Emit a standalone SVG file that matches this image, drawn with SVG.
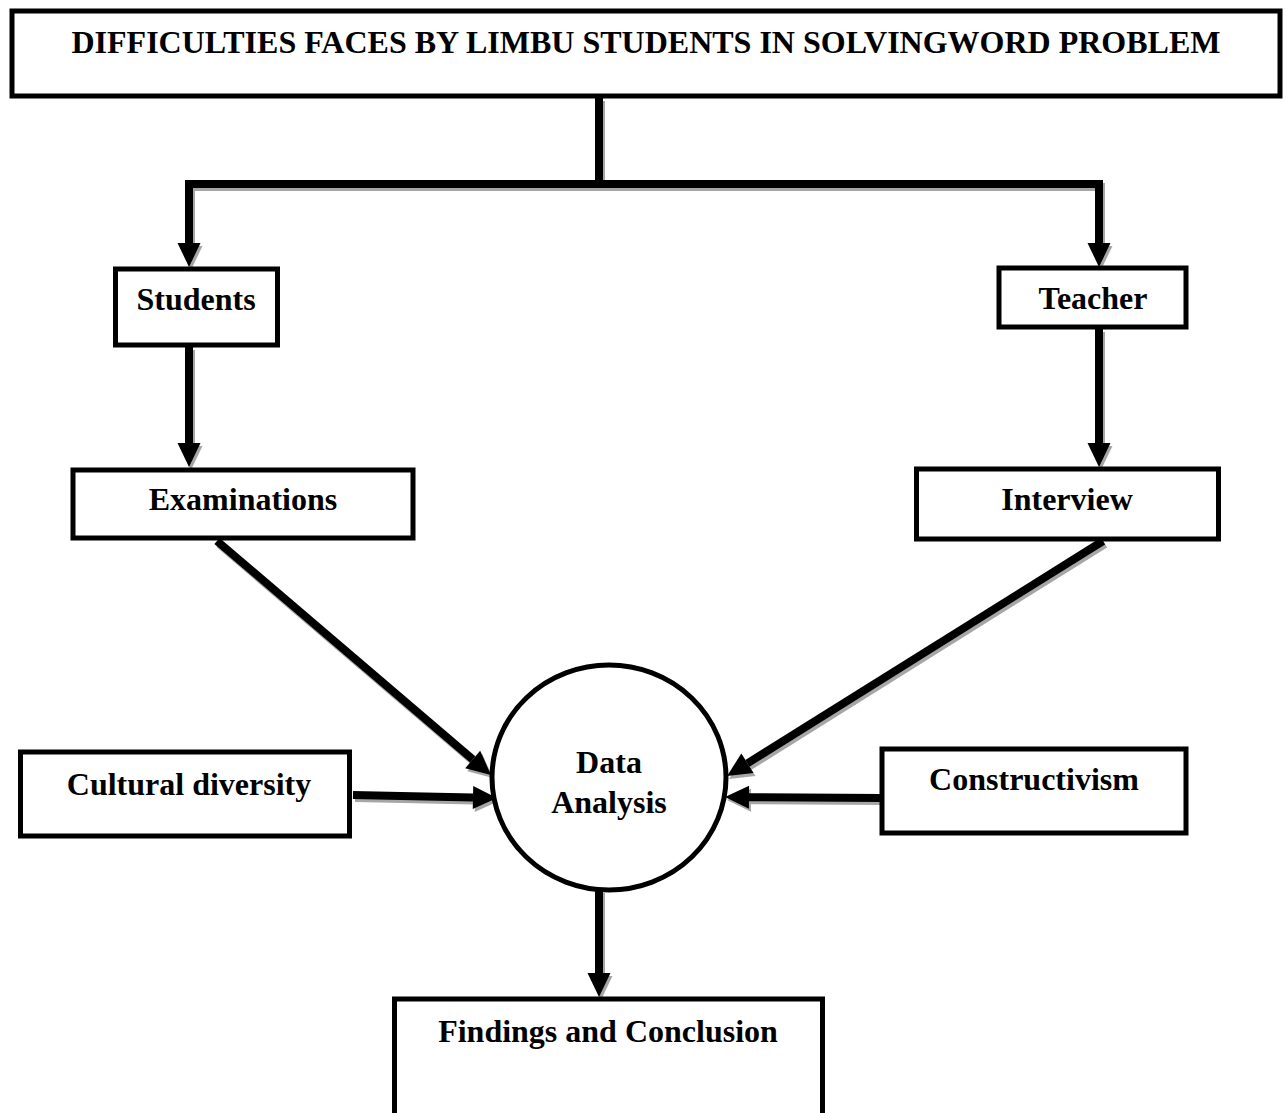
<svg xmlns="http://www.w3.org/2000/svg" width="1286" height="1113" viewBox="0 0 1286 1113">
<style>
.box{fill:#fff;stroke:#000;stroke-width:5}
.lbl{font-family:"Liberation Serif","Times New Roman",serif;font-weight:bold;font-size:32px;fill:#000;text-anchor:middle}
.ln{fill:none;stroke:#000;stroke-width:8;stroke-linejoin:miter}
.sh{fill:none;stroke:#a6a6a6;stroke-width:8;stroke-linejoin:miter}
</style>
<defs>
<marker id="ah" markerUnits="userSpaceOnUse" markerWidth="26" markerHeight="24" refX="0" refY="11.5" orient="auto" overflow="visible">
<path d="M0,0 L24,11.5 L0,23 Z" fill="#000"/>
</marker>
<marker id="ahs" markerUnits="userSpaceOnUse" markerWidth="26" markerHeight="24" refX="0" refY="11.5" orient="auto" overflow="visible">
<path d="M0,0 L24,11.5 L0,23 Z" fill="#a6a6a6"/>
</marker>
</defs>
<rect width="1286" height="1113" fill="#fff"/>
<g id="connectors">
<g id="shadows" transform="translate(2,3)">
<path class="sh" d="M599,98 V184"/>
<path class="sh" d="M599,184 H189 V243" marker-end="url(#ahs)"/>
<path class="sh" d="M599,184 H1099 V243" marker-end="url(#ahs)"/>
<path class="sh" d="M189,347 V443" marker-end="url(#ahs)"/>
<path class="sh" d="M1099,329 V443" marker-end="url(#ahs)"/>
<path class="sh" d="M217,541 L472.7,759.4" marker-end="url(#ahs)"/>
<path class="sh" d="M1103,541 L747.4,763.3" marker-end="url(#ahs)"/>
<path class="sh" d="M353,795 L473,797.5" marker-end="url(#ahs)"/>
<path class="sh" d="M882,798 L749,797.2" marker-end="url(#ahs)"/>
<path class="sh" d="M599,890 V973" marker-end="url(#ahs)"/>
</g>
<path class="ln" d="M599,98 V184"/>
<path class="ln" d="M599,184 H189 V243" marker-end="url(#ah)"/>
<path class="ln" d="M599,184 H1099 V243" marker-end="url(#ah)"/>
<path class="ln" d="M189,347 V443" marker-end="url(#ah)"/>
<path class="ln" d="M1099,329 V443" marker-end="url(#ah)"/>
<path class="ln" d="M217,541 L472.7,759.4" marker-end="url(#ah)"/>
<path class="ln" d="M1103,541 L747.4,763.3" marker-end="url(#ah)"/>
<path class="ln" d="M353,795 L473,797.5" marker-end="url(#ah)"/>
<path class="ln" d="M882,798 L749,797.2" marker-end="url(#ah)"/>
<path class="ln" d="M599,890 V973" marker-end="url(#ah)"/>
</g>
<g id="title">
<rect class="box" x="12" y="11" width="1268" height="85"/>
<text class="lbl" x="646" y="53">DIFFICULTIES FACES BY LIMBU STUDENTS IN SOLVINGWORD PROBLEM</text>
</g>
<g id="students">
<rect class="box" x="115.5" y="269" width="162" height="76"/>
<text class="lbl" x="196" y="310">Students</text>
</g>
<g id="teacher">
<rect class="box" x="999" y="268" width="187" height="59"/>
<text class="lbl" x="1093" y="309">Teacher</text>
</g>
<g id="examinations">
<rect class="box" x="73" y="470" width="340" height="68"/>
<text class="lbl" x="243" y="510">Examinations</text>
</g>
<g id="interview">
<rect class="box" x="916.5" y="469" width="302" height="70"/>
<text class="lbl" x="1067" y="510">Interview</text>
</g>
<g id="cultural-diversity">
<rect class="box" x="20.5" y="752" width="329" height="84"/>
<text class="lbl" x="189" y="795">Cultural diversity</text>
</g>
<g id="constructivism">
<rect class="box" x="882" y="749" width="304" height="84"/>
<text class="lbl" x="1034" y="790">Constructivism</text>
</g>
<g id="data-analysis">
<ellipse class="box" cx="609" cy="777.5" rx="117" ry="112.5"/>
<text class="lbl" x="609" y="773">Data</text>
<text class="lbl" x="609" y="813">Analysis</text>
</g>
<g id="findings">
<rect class="box" x="394.5" y="999" width="428" height="140"/>
<text class="lbl" x="608" y="1042">Findings and Conclusion</text>
</g>
</svg>
